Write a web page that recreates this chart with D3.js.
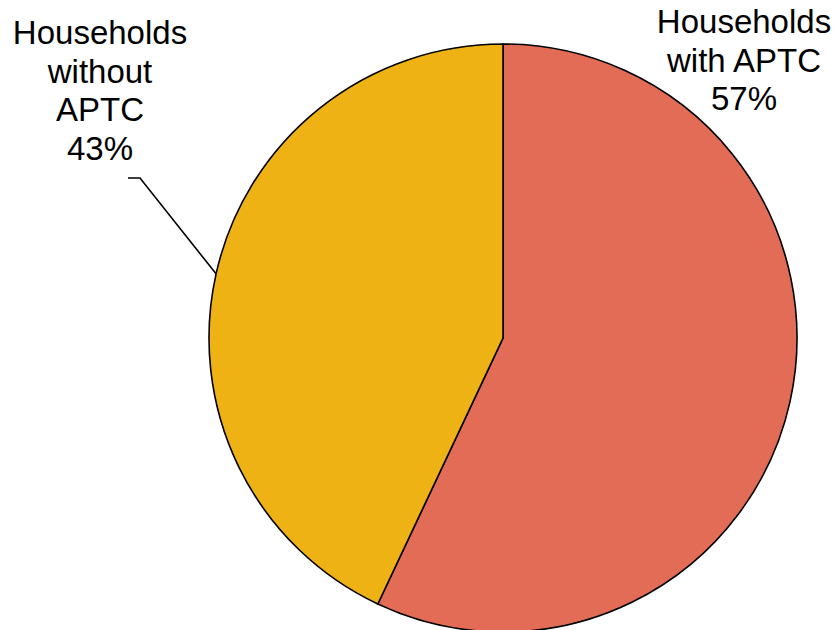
<!DOCTYPE html>
<html>
<head>
<meta charset="utf-8">
<script src="https://cdn.jsdelivr.net/npm/d3@7"></script>
<style>
  html, body { margin: 0; padding: 0; background: #fff; }
  svg { display: block; }
  text { font-family: "Liberation Sans", Arial, sans-serif; font-size: 33px; fill: #000; }
</style>
</head>
<body>
<svg id="chart" width="837" height="630"></svg>
<script>
"use strict";

// ── Data ─────────────────────────────────────────────────────────────────────
const categories = ["Households with APTC", "Households without APTC"];
const labelLines = [["Households", "with APTC"], ["Households", "without", "APTC"]];
const values = [57, 43];
const colors = ["#E36C57", "#EEB215"];

// ── Layout ───────────────────────────────────────────────────────────────────
const W = 837, H = 630;
const cx = 503, cy = 338, radius = 294;
const lineH = 38.5;
const labelPos = [
  { x: 744, y: 33 },   // first baseline of right label
  { x: 100, y: 44 }    // first baseline of left label
];

const svg = d3.select("#chart");
const g = svg.append("g").attr("transform", `translate(${cx},${cy})`);

const pie = d3.pie().value(d => d.value).sort(null);
const arc = d3.arc().innerRadius(0).outerRadius(radius);

const data = categories.map((c, i) => ({ name: c, value: values[i], color: colors[i], lines: labelLines[i] }));
const arcs = pie(data);

g.selectAll(".slice")
  .data(arcs)
  .enter().append("path")
  .attr("class", "slice")
  .attr("d", arc)
  .attr("fill", d => d.data.color)
  .attr("stroke", "#000")
  .attr("stroke-width", 1.6)
  .attr("stroke-linejoin", "miter");

// ── Labels ───────────────────────────────────────────────────────────────────
arcs.forEach((d, i) => {
  const p = labelPos[i];
  const t = svg.append("text").attr("text-anchor", "middle");
  const lines = d.data.lines.concat([`${d.data.value}%`]);
  lines.forEach((ln, k) => {
    t.append("tspan").attr("x", p.x).attr("y", p.y + k * lineH).text(ln);
  });
});

// Leader line for the smaller slice (points to slice mid-angle on the rim)
const small = arcs[1];
const mid = (small.startAngle + small.endAngle) / 2;
const rimX = cx + radius * Math.sin(mid);
const rimY = cy - radius * Math.cos(mid);
svg.append("polyline")
  .attr("points", `128,178 140,178 ${rimX},${rimY}`)
  .attr("fill", "none")
  .attr("stroke", "#000")
  .attr("stroke-width", 1.6);
</script>
</body>
</html>
